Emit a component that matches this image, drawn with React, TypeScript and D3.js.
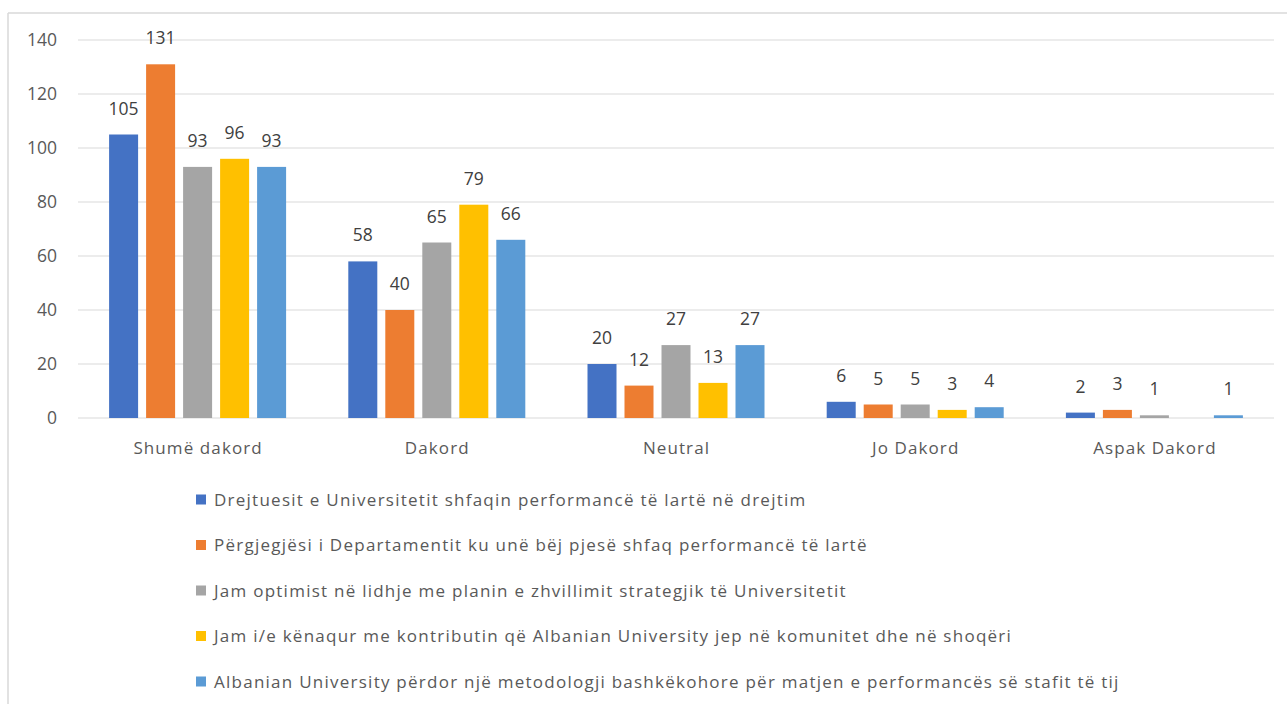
import React from "react";
import * as d3 from "d3";

const categories = ["Shumë dakord", "Dakord", "Neutral", "Jo Dakord", "Aspak Dakord"];
const seriesNames = [
  "Drejtuesit e Universitetit shfaqin performancë të lartë në drejtim",
  "Përgjegjësi i Departamentit ku unë bëj pjesë shfaq performancë të lartë",
  "Jam optimist në lidhje me planin e zhvillimit strategjik të Universitetit",
  "Jam i/e kënaqur me kontributin që Albanian University jep në komunitet dhe në shoqëri",
  "Albanian University përdor një metodologji bashkëkohore për matjen e performancës së stafit të tij",
];
const series1 = [105, 58, 20, 6, 2];
const series2 = [131, 40, 12, 5, 3];
const series3 = [93, 65, 27, 5, 1];
const series4: (number | null)[] = [96, 79, 13, 3, null];
const series5 = [93, 66, 27, 4, 1];
const seriesValues = [series1, series2, series3, series4, series5];
const colors = ["#4472C4", "#ED7D31", "#A5A5A5", "#FFC000", "#5B9BD5"];
const yTicks = [0, 20, 40, 60, 80, 100, 120, 140];

const W = 1287;
const H = 704;
const FONT = "'Open Sans', 'Liberation Sans', sans-serif";

export default function App() {
  const plotLeft = 78;
  const plotRight = 1274;
  const y = d3.scaleLinear().domain([0, 140]).range([418, 40]);
  const x0 = d3.scaleBand<string>().domain(categories).range([plotLeft, plotRight]).paddingInner(0).paddingOuter(0);
  const x1 = d3
    .scaleBand<number>()
    .domain(d3.range(seriesNames.length))
    .range([-88.5, 88.5])
    .paddingInner(8 / 37)
    .paddingOuter(0);

  return (
    <svg width={W} height={H} style={{ position: "absolute", left: 0, top: 0, background: "#fff" }}>
      <rect x={0} y={0} width={W} height={H} fill="#fff" />
      {/* frame */}
      <line x1={8} y1={13} x2={W} y2={13} stroke="#d9d9d9" strokeWidth={1.5} />
      <line x1={8} y1={13} x2={8} y2={H} stroke="#d9d9d9" strokeWidth={1.5} />
      {/* grid */}
      {yTicks.map((t) => (
        <g key={t}>
          <line x1={plotLeft} x2={plotRight} y1={y(t)} y2={y(t)} stroke="#d9d9d9" strokeWidth={1} />
          <text
            x={57}
            y={y(t)}
            dy="0.36em"
            textAnchor="end"
            fontFamily={FONT}
            fontSize={17.5}
            fill="#595959"
          >
            {t}
          </text>
        </g>
      ))}
      {/* bars */}
      {categories.map((c, ci) => {
        const cx = (x0(c) as number) + x0.bandwidth() / 2;
        return (
          <g key={c}>
            {seriesValues.map((vals, si) => {
              const v = vals[ci];
              if (v === null || v === undefined) return null;
              const bx = cx + (x1(si) as number);
              return (
                <g key={si}>
                  <rect x={bx} y={y(v)} width={x1.bandwidth()} height={y(0) - y(v)} fill={colors[si]} />
                  <text
                    x={bx + x1.bandwidth() / 2}
                    y={y(v) - 20}
                    textAnchor="middle"
                    fontFamily={FONT}
                    fontSize={17.5}
                    fill="#404040"
                  >
                    {v}
                  </text>
                </g>
              );
            })}
            <text
              x={cx + 0.5}
              y={454}
              textAnchor="middle"
              fontFamily={FONT}
              fontSize={17}
              letterSpacing={1.1}
              fill="#595959"
            >
              {c}
            </text>
          </g>
        );
      })}
      {/* legend */}
      {seriesNames.map((n, i) => {
        const cy = 499.5 + i * 45.5;
        return (
          <g key={n}>
            <rect x={196} y={cy - 5} width={10} height={10} fill={colors[i]} />
            <text
              x={214}
              y={cy + 6}
              fontFamily={FONT}
              fontSize={17}
              letterSpacing={1.25}
              fill="#595959"
            >
              {n}
            </text>
          </g>
        );
      })}
    </svg>
  );
}
